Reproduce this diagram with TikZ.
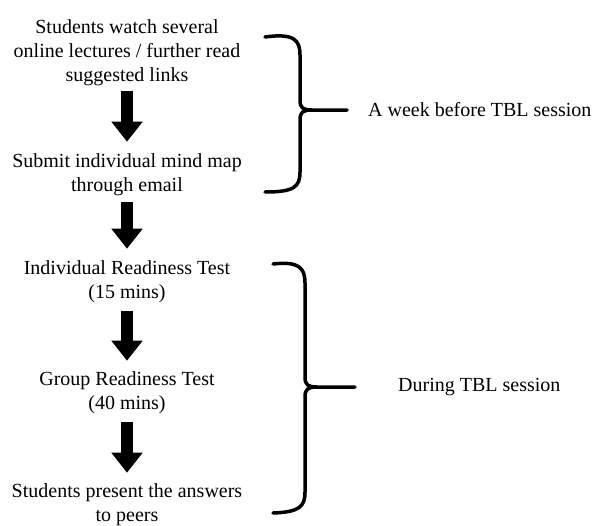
\documentclass[tikz,border=0pt]{standalone}
\usepackage{fontspec}
\setmainfont{Liberation Serif}
\usetikzlibrary{arrows.meta}

\tikzset{
  steptext/.style={align=center, inner sep=0pt, font=\fontsize{20}{24}\selectfont},
  sidetext/.style={anchor=west, inner sep=0pt, font=\fontsize{20}{24}\selectfont},
  blockarrow/.style={line width=12pt, -{Triangle[length=20pt 0 0, width=30pt 0 0]}},
  bracepath/.style={line width=3.5pt, line cap=round, line join=round}
}

\begin{document}
\begin{tikzpicture}[x=1pt, y=-1pt]
  \useasboundingbox (0,0) rectangle (593,525);

  % steps
  \node[steptext] (watch) at (127,53) {Students watch several\\online lectures / further read\\suggested links};
  \node[steptext] (mindmap) at (127,175) {Submit individual mind map\\through email};
  \node[steptext] (irat) at (127,282) {Individual Readiness Test\\(15 mins)};
  \node[steptext] (grat) at (127,393) {Group Readiness Test\\(40 mins)};
  \node[steptext] (present) at (127,505) {Students present the answers\\to peers};

  \draw[blockarrow, shorten <=5pt, shorten >=12pt] (watch.south) -- (mindmap.north);
  \draw[blockarrow, shorten <=6pt, shorten >=12pt] (mindmap.south) -- (irat.north);
  \draw[blockarrow, shorten <=8pt, shorten >=11pt] (irat.south) -- (grat.north);
  \draw[blockarrow, shorten <=8pt, shorten >=11pt] (grat.south) -- (present.north);

  % braces
  \draw[bracepath] (265,37) .. controls (294,33) and (300,40) .. (300,55) -- (300,100)
        .. controls (300,108) and (303,110) .. (312,110) -- (347,110);
  \draw[bracepath] (312,110) .. controls (303,110) and (300,112) .. (300,120) -- (300,172)
        .. controls (300,187) and (294,192) .. (265,192);
  \node[sidetext] (before) at (368,110) {A week before TBL session};

  \draw[bracepath] (273,264) .. controls (299,261) and (305,268) .. (305,283) -- (305,377)
        .. controls (305,385) and (308,387) .. (317,387) -- (355,387);
  \draw[bracepath] (317,387) .. controls (308,387) and (305,389) .. (305,397) -- (305,492)
        .. controls (305,507) and (299,512) .. (273,513);
  \node[sidetext] (during) at (398,387) {During TBL session};
\end{tikzpicture}
\end{document}
